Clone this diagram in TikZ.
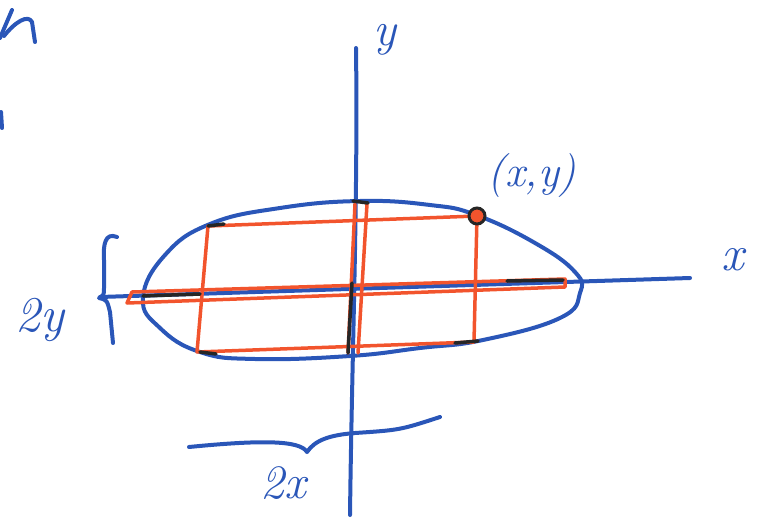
\documentclass[tikz,border=0pt]{standalone}
\usepackage{fontspec}
\usepackage{xcolor}
\usepackage{tikz}
\definecolor{SketchBlue}{HTML}{2A56B8}
\definecolor{SketchRed}{HTML}{F2542D}
\definecolor{SketchInk}{HTML}{262626}
\tikzset{
  pen/.style={draw=SketchBlue, line width=4pt, line cap=round, line join=round},
  guide/.style={draw=SketchRed, line width=3.5pt, line cap=round, line join=round},
  ink/.style={draw=SketchInk, line width=3.5pt, line cap=round},
  hand/.style={text=SketchBlue, inner sep=0pt, font=\fontsize{44}{46}\selectfont\itshape}
}

\begin{document}
\begin{tikzpicture}[x=1pt, y=-1pt]
  \useasboundingbox (0,0) rectangle (759,519);
  % axes
  \coordinate (ytop) at (356,48);
  \coordinate (ybot) at (350,515);
  \coordinate (xleft) at (100,297);
  \coordinate (xright) at (690,278);
  \draw[pen] (ytop) .. controls (358,200) and (352,350) .. (ybot);
  \draw[pen] (xleft) -- (xright);
  \node[hand, font=\fontsize{48}{50}\selectfont\itshape] (ylab) at (385,40) {y};
  \node[hand, font=\fontsize{50}{52}\selectfont\itshape] (xlab) at (733,260) {x};
  % the ellipse
  \draw[pen] plot[smooth cycle, tension=0.75] coordinates {
    (143,298) (165,255) (210,224) (280,208) (360,201) (430,205) (476,215)
    (535,243) (575,272) (580,293) (560,318) (483,340) (420,348) (350,356)
    (255,359) (200,352) (160,328)};
  % red rectangle
  \coordinate (tl) at (208,226);
  \coordinate (tr) at (477,216);
  \coordinate (br) at (474,342);
  \coordinate (bl) at (197,352);
  \draw[guide] (tl) -- (tr) -- (br) -- (bl) -- cycle;
  \draw[guide] (355,204) -- (348,353);
  \draw[guide] (367,204) -- (358,353);
  \draw[guide] (132,292) -- (565,279) -- (565,287) -- (127,303) -- cycle;
  % black pen over the boundary
  \draw[ink] (143,296) -- (200,294);
  \draw[ink] (507,281) -- (563,280);
  \draw[ink] (353,201) -- (368,203);
  \draw[ink] (352,283) -- (348,353);
  \draw[ink] (208,226) -- (224,224);
  \draw[ink] (200,352) -- (216,354);
  \draw[ink] (455,343) -- (478,341);
  % point on the ellipse
  \node[circle, draw=SketchInk, fill=SketchRed, line width=3pt,
        minimum size=16pt, inner sep=0pt] (pt) at (tr) {};
  \node[hand] (ptlab) at (532,176) {(x,y)};
  % braces
  \draw[pen] (117,237) .. controls (105,232) and (103,245) .. (104,260)
    -- (104,288) .. controls (104,295) .. (99,298)
    .. controls (107,300) .. (110,312) -- (113,343);
  \node[hand, font=\fontsize{50}{52}\selectfont\itshape] (twoy) at (40,320) {2y};
  \draw[pen] (189,447) .. controls (260,440) and (300,440) .. (307,452)
    .. controls (315,440) and (330,435) .. (355,433)
    .. controls (400,430) .. (440,417);
  \node[hand, font=\fontsize{48}{50}\selectfont\itshape] (twox) at (283,483) {2x};
  % fragments at the left edge
  \draw[pen] (0,38) -- (12,10);
  \draw[pen] (4,36) .. controls (15,22) and (28,14) .. (32,22) -- (35,42);
  \draw[pen] (1,112) -- (2,128);
\end{tikzpicture}
\end{document}
